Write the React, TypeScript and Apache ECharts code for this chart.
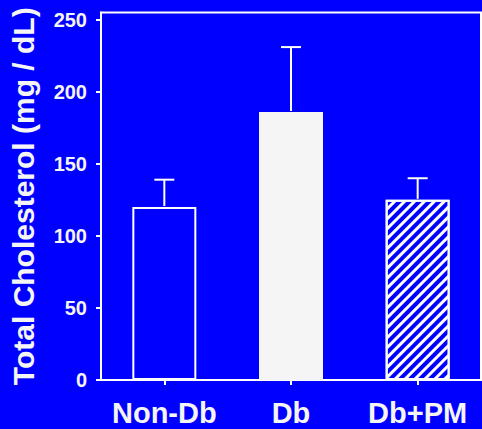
import React, { useEffect, useRef } from "react";
import * as echarts from "echarts";

const categories = ["Non-Db", "Db", "Db+PM"];
const means = [120, 186, 125];
const errorTops = [139, 231, 140];
const yTicks = [0, 50, 100, 150, 200, 250];

const BLUE = "#0000ff";
const WHITE = "#ffffff";
const FONT = "'Liberation Sans', Arial, Helvetica, sans-serif";

export default function App() {
  const ref = useRef<HTMLDivElement>(null);
  useEffect(() => {
    if (!ref.current) return;
    const chart = echarts.init(ref.current, null, { renderer: "svg" });
    const barStyles = [
      { color: BLUE, borderColor: WHITE, borderWidth: 2 },
      { color: "#f5f5f5", borderColor: "#f5f5f5", borderWidth: 2 },
      {
        color: BLUE,
        borderColor: WHITE,
        borderWidth: 2,
        decal: {
          symbol: "rect",
          symbolSize: 1,
          color: WHITE,
          backgroundColor: BLUE,
          dashArrayX: [1, 0],
          dashArrayY: [2.6, 3.1],
          rotation: -Math.PI / 4,
        },
      },
    ];
    chart.setOption({
      animation: false,
      backgroundColor: BLUE,
      aria: { enabled: false, decal: { show: false } },
      grid: {
        left: 100,
        right: 1,
        top: 12.5,
        bottom: 49,
        show: true,
        borderColor: WHITE,
        borderWidth: 2,
        backgroundColor: "transparent",
      },
      xAxis: {
        type: "category",
        data: categories,
        axisLine: { show: true, lineStyle: { color: WHITE, width: 2 } },
        axisTick: { show: true, alignWithLabel: true, length: 5, lineStyle: { color: WHITE, width: 2 } },
        axisLabel: {
          color: "#f5f5f5",
          fontSize: 29,
          fontWeight: "bold",
          fontFamily: FONT,
          margin: 18,
          interval: 0,
          hideOverlap: false,
        },
      },
      yAxis: {
        type: "value",
        min: 0,
        max: 255,
        name: "Total Cholesterol (mg / dL)",
        nameLocation: "middle",
        nameGap: 63,
        nameTextStyle: {
          color: "#f5f5f5",
          fontSize: 30,
          fontWeight: "bold",
          fontFamily: FONT,
        },
        splitLine: { show: false },
        axisLine: { show: true, lineStyle: { color: WHITE, width: 2 } },
        axisTick: { show: true, length: 5, customValues: yTicks, lineStyle: { color: WHITE, width: 2 } },
        axisLabel: {
          color: "#f5f5f5",
          fontSize: 20,
          fontWeight: "bold",
          fontFamily: FONT,
          margin: 14,
          customValues: yTicks,
        },
      },
      series: [
        {
          type: "bar",
          barWidth: 64,
          data: means.map((v, i) => ({ value: v, itemStyle: barStyles[i] })),
        },
        {
          type: "custom",
          data: means.map((v, i) => [i, v, errorTops[i]]),
          renderItem: (params: any, api: any) => {
            const base = api.coord([api.value(0), api.value(1)]);
            const top = api.coord([api.value(0), api.value(2)]);
            const half = 10;
            const style = { stroke: WHITE, lineWidth: 2 };
            return {
              type: "group",
              children: [
                { type: "line", shape: { x1: base[0], y1: base[1] - 1, x2: top[0], y2: top[1] }, style },
                { type: "line", shape: { x1: top[0] - half, y1: top[1], x2: top[0] + half, y2: top[1] }, style },
              ],
            };
          },
          z: 3,
        },
      ],
    });
    return () => chart.dispose();
  }, []);
  return <div ref={ref} style={{ width: 482, height: 429, position: "absolute", left: 0, top: 0 }} />;
}
